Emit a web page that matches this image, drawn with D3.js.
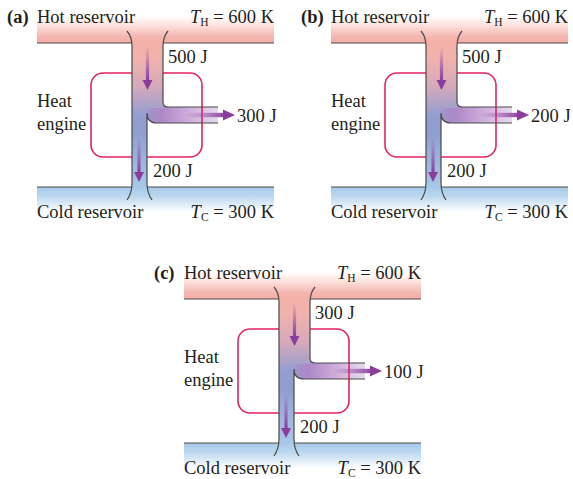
<!DOCTYPE html>
<html>
<head>
<meta charset="utf-8">
<script src="https://cdn.jsdelivr.net/npm/d3@7"></script>
<style>
  body { margin: 0; background: #fff; }
  text { font-family: "Liberation Serif", "DejaVu Serif", serif; fill: #231f20; }
</style>
</head>
<body>
<svg id="drawing_region"></svg>
<script>
// values
const panelLabels = ['(a)', '(b)', '(c)'];
const heatIn = [500, 500, 300];     // Q_H drawn from hot reservoir
const workOut = [300, 200, 100];    // W delivered by the engine
const heatOut = [200, 200, 200];    // Q_C rejected to cold reservoir
const tempHot = [600, 600, 600];
const tempCold = [300, 300, 300];

const width = 573, height = 479;
const svg = d3.select('#drawing_region')
    .attr('width', width)
    .attr('height', height);

// panel placement: two on the first row, one centred below
const col = d3.scalePoint().domain([0, 1, 2]).range([0, 294]);
const row = d3.scaleLinear().domain([0, 1]).range([0, 256]);
const placement = [[col(0), row(0)], [col(2), row(0)], [col(1), row(1)]];

// local geometry of one panel
const g = {
    bandL: 37, bandR: 274,
    hotTop: 16, hotBottom: 43,
    coldTop: 187, coldBottom: 212,
    pipeL: 132, pipeR: 163, pipeIn: 147,
    branchTop: 107, branchBottom: 123, branchEnd: 218,
    box: {x0: 91, y0: 73, x1: 202, y1: 157, r: 12}
};

const defs = svg.append('defs');

function linGrad(id, x1, y1, x2, y2, stops, units) {
    const lg = defs.append('linearGradient')
        .attr('id', id)
        .attr('gradientUnits', units || 'userSpaceOnUse')
        .attr('x1', x1).attr('y1', y1).attr('x2', x2).attr('y2', y2);
    stops.forEach(s => {
        lg.append('stop')
            .attr('offset', s[0])
            .attr('stop-color', s[1])
            .attr('stop-opacity', s[2] === undefined ? 1 : s[2]);
    });
}

linGrad('hotGrad', 0, g.hotTop, 0, g.hotBottom,
    [[0, '#ffffff'], [0.3, '#fde6e2'], [0.75, '#f5b8b1'], [1, '#f3aea7']]);
linGrad('coldGrad', 0, g.coldTop, 0, g.coldBottom,
    [[0, '#a6c9e8'], [0.35, '#bad6ee'], [1, '#ffffff']]);
linGrad('pipeGrad', 0, g.hotBottom, 0, g.coldTop,
    [[0, '#f3afa8'], [0.1, '#f1b3ad'], [0.3, '#d6a9bb'], [0.5, '#949ed0'],
     [0.62, '#8f9dcf'], [0.85, '#a0b7de'], [1, '#a7c9e8']]);
linGrad('branchGrad', g.pipeIn, 0, g.branchEnd, 0,
    [[0, '#9d95cd'], [0.2, '#ad88c7'], [0.55, '#cba9d9'], [1, '#e6daf0']]);
linGrad('arrowDown', 0, 0, 0, 1,
    [[0, '#8b3d9c', 0], [1, '#8b3d9c', 1]], 'objectBoundingBox');
linGrad('arrowRight', 0, 0, 1, 0,
    [[0, '#8b3d9c', 0], [0.4, '#8b3d9c', 0.35], [1, '#8b3d9c', 1]], 'objectBoundingBox');

const arrowColor = '#8b3d9c';
const lineColor = '#4a4a4a';

function downArrow(sel, x, y0, y1) {
    sel.append('rect')
        .attr('x', x - 1.6).attr('y', y0)
        .attr('width', 3.2).attr('height', y1 - y0 - 9)
        .attr('fill', 'url(#arrowDown)');
    sel.append('path')
        .attr('d', `M${x - 5},${y1 - 10} L${x + 5},${y1 - 10} L${x},${y1} Z`)
        .attr('fill', arrowColor);
}

function rightArrow(sel, y, x0, x1) {
    sel.append('rect')
        .attr('x', x0).attr('y', y - 2.2)
        .attr('width', x1 - x0 - 10).attr('height', 4.4)
        .attr('fill', 'url(#arrowRight)');
    sel.append('path')
        .attr('d', `M${x1 - 12},${y - 5.5} L${x1},${y} L${x1 - 12},${y + 5.5} Z`)
        .attr('fill', arrowColor);
}

function drawPanel(i) {
    const p = svg.append('g')
        .attr('transform', `translate(${placement[i][0]}, ${placement[i][1]})`);

    // reservoirs
    p.append('rect')
        .attr('x', g.bandL).attr('y', g.hotTop)
        .attr('width', g.bandR - g.bandL).attr('height', g.hotBottom - g.hotTop)
        .attr('fill', 'url(#hotGrad)');
    p.append('rect')
        .attr('x', g.bandL).attr('y', g.coldTop)
        .attr('width', g.bandR - g.bandL).attr('height', g.coldBottom - g.coldTop)
        .attr('fill', 'url(#coldGrad)');

    // work branch (under the engine outline)
    p.append('path')
        .attr('d', `M${g.pipeR},${g.branchTop - 5} Q${g.pipeR},${g.branchTop} ${g.pipeR + 5},${g.branchTop}
                    L${g.branchEnd},${g.branchTop} L${g.branchEnd},${g.branchBottom}
                    L${g.pipeIn + 10},${g.branchBottom} Q${g.pipeIn},${g.branchBottom} ${g.pipeIn},${g.branchBottom - 10}
                    L${g.pipeIn},${g.branchTop - 5} Z`)
        .attr('fill', 'url(#branchGrad)');

    // engine outline
    p.append('rect')
        .attr('x', g.box.x0).attr('y', g.box.y0)
        .attr('width', g.box.x1 - g.box.x0).attr('height', g.box.y1 - g.box.y0)
        .attr('rx', g.box.r).attr('ry', g.box.r)
        .attr('fill', 'none')
        .attr('stroke', '#e5245f')
        .attr('stroke-width', 1.6);

    // main pipe
    p.append('path')
        .attr('d', `M${g.pipeL},${g.hotBottom - 1} L${g.pipeR},${g.hotBottom - 1}
                    L${g.pipeR},${g.branchTop + 1} L${g.pipeIn + 6},${g.branchTop + 1}
                    Q${g.pipeIn},${g.branchTop + 2} ${g.pipeIn},${g.branchBottom - 10}
                    L${g.pipeIn},${g.coldTop + 1} L${g.pipeL},${g.coldTop + 1} Z`)
        .attr('fill', 'url(#pipeGrad)');

    // reservoir edge lines, broken where the pipe enters
    const edges = p.append('g').attr('stroke', lineColor).attr('stroke-width', 1.2).attr('fill', 'none');
    edges.append('line').attr('x1', g.bandL).attr('x2', g.pipeL).attr('y1', g.hotBottom).attr('y2', g.hotBottom);
    edges.append('line').attr('x1', g.pipeR).attr('x2', g.bandR).attr('y1', g.hotBottom).attr('y2', g.hotBottom);
    edges.append('line').attr('x1', g.bandL).attr('x2', g.pipeL).attr('y1', g.coldTop).attr('y2', g.coldTop);
    edges.append('line').attr('x1', g.pipeIn).attr('x2', g.bandR).attr('y1', g.coldTop).attr('y2', g.coldTop);

    // pipe outlines with flared ends
    edges.append('path')
        .attr('d', `M${g.pipeL - 5},${g.hotBottom - 12} Q${g.pipeL},${g.hotBottom - 6} ${g.pipeL},${g.hotBottom + 3}
                    L${g.pipeL},${g.coldTop - 4} Q${g.pipeL},${g.coldTop + 6} ${g.pipeL - 5},${g.coldTop + 13}`);
    edges.append('path')
        .attr('d', `M${g.pipeR + 5},${g.hotBottom - 12} Q${g.pipeR},${g.hotBottom - 6} ${g.pipeR},${g.hotBottom + 3}
                    L${g.pipeR},${g.branchTop - 5} Q${g.pipeR},${g.branchTop} ${g.pipeR + 5},${g.branchTop}
                    L${g.branchEnd},${g.branchTop}`);
    edges.append('path')
        .attr('d', `M${g.branchEnd},${g.branchBottom} L${g.pipeIn + 10},${g.branchBottom}
                    Q${g.pipeIn},${g.branchBottom} ${g.pipeIn},${g.branchBottom - 10}
                    L${g.pipeIn},${g.coldTop - 4} Q${g.pipeIn},${g.coldTop + 6} ${g.pipeIn + 5},${g.coldTop + 13}`);

    // flow arrows
    downArrow(p, (g.pipeL + g.pipeR) / 2, 47, 90);
    downArrow(p, (g.pipeL + g.pipeIn) / 2 - 0.5, 138, 182);
    rightArrow(p, (g.branchTop + g.branchBottom) / 2, 186, g.branchEnd + 17);

    // labels
    const fs = 18.5;
    p.append('text').attr('x', 7).attr('y', 23).attr('font-size', fs)
        .attr('font-weight', 'bold').text(panelLabels[i]);
    p.append('text').attr('x', g.bandL).attr('y', 23).attr('font-size', fs)
        .text('Hot reservoir');
    p.append('text').attr('x', g.bandL).attr('y', 218).attr('font-size', fs)
        .text('Cold reservoir');

    const tH = p.append('text').attr('x', g.bandR).attr('y', 23).attr('font-size', fs)
        .attr('text-anchor', 'end');
    tH.append('tspan').attr('font-style', 'italic').text('T');
    tH.append('tspan').attr('font-size', 11.5).attr('dy', 3).text('H');
    tH.append('tspan').attr('dy', -3).text(` = ${tempHot[i]} K`);

    const tC = p.append('text').attr('x', g.bandR).attr('y', 218).attr('font-size', fs)
        .attr('text-anchor', 'end');
    tC.append('tspan').attr('font-style', 'italic').text('T');
    tC.append('tspan').attr('font-size', 11.5).attr('dy', 3).text('C');
    tC.append('tspan').attr('dy', -3).text(` = ${tempCold[i]} K`);

    p.append('text').attr('x', g.pipeR + 5).attr('y', 63).attr('font-size', fs)
        .text(`${heatIn[i]} J`);
    p.append('text').attr('x', g.pipeIn + 6).attr('y', 177).attr('font-size', fs)
        .text(`${heatOut[i]} J`);
    p.append('text').attr('x', g.branchEnd + 19).attr('y', 122).attr('font-size', fs)
        .text(`${workOut[i]} J`);
    p.append('text').attr('x', g.bandL).attr('y', 107).attr('font-size', fs).text('Heat');
    p.append('text').attr('x', g.bandL).attr('y', 130).attr('font-size', fs).text('engine');
}

panelLabels.forEach((d, i) => drawPanel(i));
</script>
</body>
</html>
